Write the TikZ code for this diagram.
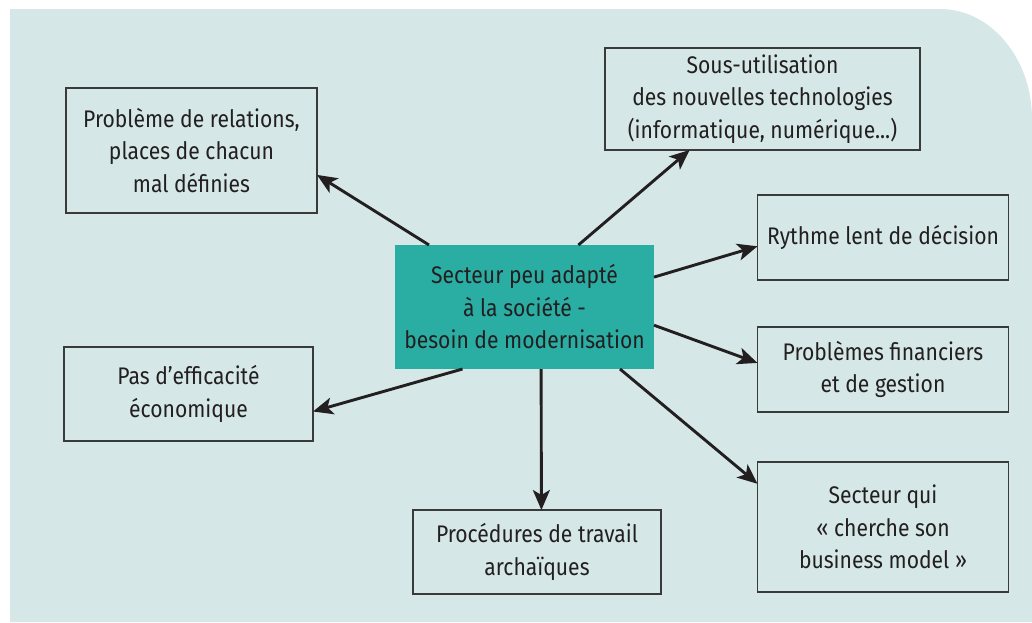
\documentclass[tikz,border=0pt]{standalone}
\usepackage{fontspec}
\setmainfont[FakeStretch=0.88]{Fira Sans}
\usepackage{xcolor}
\usepackage{tikz}
\usetikzlibrary{arrows.meta, positioning}
\definecolor{panelbg}{HTML}{D5E8E7}
\definecolor{secteurfill}{HTML}{2AAEA4}
\definecolor{inkgrey}{HTML}{231F20}
\definecolor{boxline}{HTML}{3A3A3A}
\tikzset{
    cause/.style={
        rectangle,
        draw=boxline,
        line width=1.2pt,
        align=center,
        text=inkgrey,
        inner sep=0pt,
        outer sep=0pt,
        minimum width=251pt,
        font=\fontsize{24}{32.5}\selectfont
    },
    core/.style={
        cause,
        draw=none,
        fill=secteurfill
    },
    link/.style={
        draw=inkgrey,
        line width=2.9pt,
        -{Stealth[length=20pt, width=17pt, inset=5pt]}
    }
}

\begin{document}
\begin{tikzpicture}[x=1pt, y=-1pt]

% Background panel
\useasboundingbox (0,0) rectangle (1032,622);
\fill[panelbg] (10,622) -- (10,9) -- (940,9)
    arc[start angle=90, end angle=0, x radius=92pt, y radius=110pt] -- (1032,622) -- cycle;

% Central box
\node[core, minimum width=259pt, minimum height=124pt] (secteur) at (524.5,307)
    {Secteur peu adapté\\à la société -\\besoin de modernisation};

% Consequences (left and top)
\node[cause, minimum height=125pt] (relations) at (191.5,150.5)
    {Problème de relations,\\places de chacun\\mal définies};
\node[cause, minimum width=315pt, minimum height=102pt] (techno) at (762.5,99)
    {Sous-utilisation\\des nouvelles technologies\\(informatique, numérique...)};
\node[cause, minimum width=249pt, minimum height=94pt] (efficacite) at (188.5,394)
    {Pas d’efficacité\\économique};
\node[cause, minimum width=248pt, minimum height=84pt] (procedures) at (537,552)
    {Procédures de travail\\archaïques};

% Consequences (right column)
\node[cause, minimum height=85pt] (rythme) at (883,237.5) {Rythme lent de décision};
\node[cause, minimum height=85pt, below=47pt of rythme] (finances)
    {Problèmes financiers\\et de gestion};
\node[cause, minimum height=130pt, below=50pt of finances] (business)
    {Secteur qui\\« cherche son\\business model »};

% Arrows
\draw[link] (secteur.147.3) -- (relations.-11.9);
\draw[link] (secteur.49.2) -- (techno.-145.2);
\draw[link] (secteur.13.6) -- (rythme.184.3);
\draw[link] (secteur.-8.8) -- (finances.177);
\draw[link] (secteur.-33) -- (business.161.5);
\draw[link] (secteur.-75.1) -- (procedures.84.6);
\draw[link] (secteur.-135.2) -- (efficacite.-8.2);

\end{tikzpicture}
\end{document}
